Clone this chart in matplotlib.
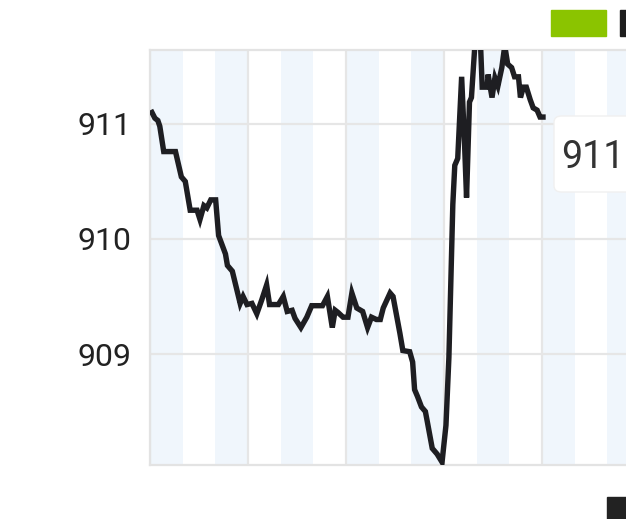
import matplotlib
matplotlib.use("Agg")
import matplotlib.pyplot as plt
from matplotlib.patches import Rectangle, FancyBboxPatch

# ---- data (x in grid units, y values) ----
x_vals = [0.02, 0.05, 0.08, 0.10, 0.14, 0.26, 0.32, 0.36, 0.41, 0.48, 0.51, 0.55, 0.58, 0.62,
          0.67, 0.70, 0.77, 0.79, 0.84, 0.88, 0.92, 0.95, 0.99, 1.04, 1.09, 1.14, 1.19, 1.22,
          1.31, 1.36, 1.40, 1.45, 1.48, 1.54, 1.60, 1.65, 1.76, 1.81, 1.86, 1.89, 1.92, 1.97,
          2.02, 2.06, 2.11, 2.17, 2.22, 2.26, 2.31, 2.35, 2.38, 2.45, 2.48, 2.55, 2.58, 2.65,
          2.68, 2.70, 2.73, 2.77, 2.81, 2.83, 2.88, 2.93, 2.98, 3.02, 3.05, 3.09, 3.11, 3.14,
          3.18, 3.21, 3.23, 3.26, 3.28, 3.32, 3.37, 3.39, 3.44, 3.45, 3.49, 3.52, 3.55, 3.59,
          3.62, 3.65, 3.69, 3.72, 3.76, 3.78, 3.81, 3.84, 3.88, 3.91, 3.95, 3.98, 4.01]
y_vals = [911.10, 911.05, 911.03, 910.98, 910.76, 910.76, 910.54, 910.50, 910.25, 910.25,
          910.17, 910.29, 910.27, 910.34, 910.34, 910.03, 909.87, 909.77, 909.72, 909.58,
          909.44, 909.50, 909.43, 909.44, 909.35, 909.47, 909.60, 909.43, 909.43, 909.50,
          909.37, 909.38, 909.31, 909.23, 909.32, 909.42, 909.42, 909.50, 909.23, 909.38,
          909.36, 909.32, 909.32, 909.53, 909.40, 909.37, 909.23, 909.32, 909.30, 909.30,
          909.40, 909.53, 909.50, 909.18, 909.03, 909.02, 908.93, 908.69, 908.63, 908.54,
          908.50, 908.41, 908.18, 908.13, 908.06, 908.38, 908.97, 910.30, 910.64, 910.70,
          911.41, 910.82, 910.36, 911.19, 911.23, 911.75, 911.75, 911.32, 911.32, 911.43,
          911.23, 911.40, 911.33, 911.49, 911.68, 911.52, 911.49, 911.41, 911.41, 911.23,
          911.32, 911.32, 911.21, 911.14, 911.12, 911.06, 911.06]
y_ticks = [909, 910, 911]
tooltip_text = "911"

W, H = 626, 519
fig = plt.figure(figsize=(W / 100, H / 100), dpi=100)
fig.patch.set_facecolor("white")

ax = fig.add_axes([150 / W, 54 / H, 588 / W, 415 / H])
ax.set_xlim(0, 6)
ax.set_ylim(908.035, 911.643)

# alternating bands
k = 0.0
while k < 6:
    ax.axvspan(k, k + 1 / 3, color="#f0f6fc", lw=0, zorder=0)
    k += 2 / 3

for xv in range(0, 7):
    ax.axvline(xv, color="#e6e6e6", lw=1.6, zorder=1)
for yv in y_ticks:
    ax.axhline(yv, color="#e6e6e6", lw=1.6, zorder=1)

for s in ax.spines.values():
    s.set_color("#e3e3e3")
    s.set_linewidth(1.6)

ax.plot(x_vals[:len(y_vals)], y_vals, color="#1e1e22", lw=3.9, zorder=3,
        solid_joinstyle="miter")

ax.set_yticks(y_ticks)
ax.set_yticklabels([str(t) for t in y_ticks], fontsize=23, family="Roboto", color="#222222")
ax.tick_params(axis="y", length=0, pad=13)
ax.set_xticks([])

# tooltip box
box = FancyBboxPatch((554 / W, 327 / H), 100 / W, 76 / H,
                     boxstyle="round,pad=0,rounding_size=0.012",
                     transform=fig.transFigure, facecolor="white",
                     edgecolor="#f0f0f0", lw=1.0, zorder=5)
fig.patches.append(box)
fig.text(561 / W, 362 / H, tooltip_text, fontsize=27, family="Roboto",
         color="#333333", va="center", ha="left", zorder=6)

# legend pieces
fig.patches.append(Rectangle((551 / W, (H - 36) / H), 55 / W, 26 / H,
                             transform=fig.transFigure, color="#8bc400", zorder=5))
fig.patches.append(Rectangle((620 / W, (H - 36) / H), 8 / W, 26 / H,
                             transform=fig.transFigure, color="#1e1e1e", zorder=5))
fig.patches.append(Rectangle((607 / W, 0), 20 / W, 22 / H,
                             transform=fig.transFigure, color="#222222", zorder=5))

fig.savefig("out.png", dpi=100)
